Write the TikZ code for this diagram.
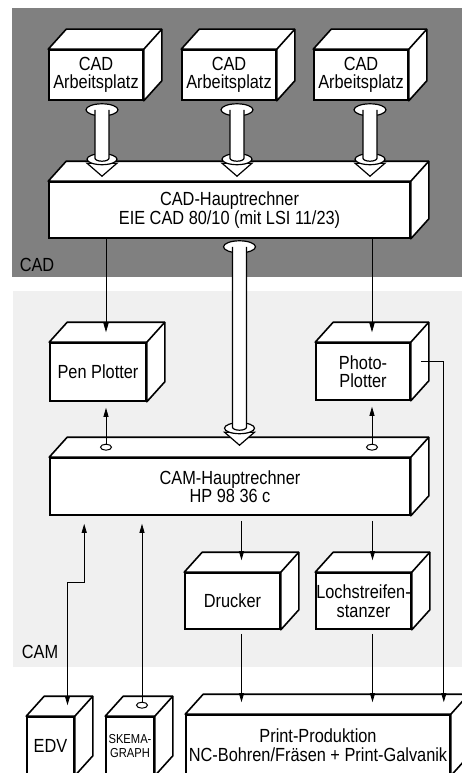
\documentclass[tikz,border=0pt]{standalone}
\usepackage{fontspec}
\setmainfont{Liberation Sans}[FakeStretch=0.86]
\usetikzlibrary{arrows.meta,calc,shapes.geometric}

\tikzset{
  unit/.style={draw,line width=1.6pt,fill=white,inner sep=0pt,align=center,
    font=\fontsize{19}{18.5}\selectfont},
  smallunit/.style={unit,font=\fontsize{13}{14}\selectfont},
  sig/.style={line width=0.8pt,-{Triangle[length=9pt,width=5pt]}},
  dsig/.style={line width=0.8pt,{Triangle[length=9pt,width=5pt]}-{Triangle[length=9pt,width=5pt]}},
  busline/.style={line width=1.2pt,fill=white},
  port/.style={ellipse,draw,line width=1pt,fill=white,inner sep=0pt,
    minimum width=11pt,minimum height=6pt},
  zone/.style={font=\fontsize{19}{19}\selectfont},
}

% side and top faces of a unit
\newcommand{\faces}[1]{%
  \draw[line width=1.6pt,fill=white,line join=round] (#1.north west) -- ++(18,-20)
    -- ($(#1.north east)+(18,-20)$) -- ($(#1.south east)+(18,-20)$)
    -- (#1.south east) -- (#1.north east) -- cycle;
  \draw[line width=1.6pt] (#1.north east) -- ++(18,-20);}

% fat bus arrow: dome at #1, cone tip at #2
\newcommand{\bus}[2]{%
  \draw[busline] ($(#2)+(-15,-13)$) -- ($(#2)+(15,-13)$) -- (#2) -- cycle;
  \draw[busline] ($(#2)+(0,-17)$) ellipse [x radius=15,y radius=5.5];
  \draw[busline] (#1) ellipse [x radius=16,y radius=6];
  \draw[busline] ($(#1)+(-7,0)$) -- ($(#2)+(-7,-18)$)
    arc[start angle=180,end angle=0,x radius=7,y radius=3] -- ($(#1)+(7,0)$);}

\begin{document}
\begin{tikzpicture}[x=1pt,y=-1pt]
  \clip (0,0) rectangle (462,773);

  % zones
  \fill[black!50] (12,8) rectangle (462,277);
  \fill[black!6] (13,291) rectangle (462,667);
  \node[zone] (cadlabel) at (37,265) {CAD};
  \node[zone] (camlabel) at (40,652) {CAM};

  % CAD side
  \node[unit,minimum width=94,minimum height=50] (ws1) at (96,75) {CAD\\Arbeitsplatz};
  \node[unit,minimum width=94,minimum height=50] (ws2) at (229,75) {CAD\\Arbeitsplatz};
  \node[unit,minimum width=94,minimum height=50] (ws3) at (361,75) {CAD\\Arbeitsplatz};
  \node[unit,minimum width=361,minimum height=56] (cad) at (229.5,210)
    {CAD-Hauptrechner\\EIE CAD 80/10 (mit LSI 11/23)};
  \faces{ws1} \faces{ws2} \faces{ws3} \faces{cad}

  % plotters and CAM
  \node[unit,minimum width=96,minimum height=58] (pen) at (98,372) {Pen Plotter};
  \node[unit,minimum width=94,minimum height=57] (photo) at (363,371.5) {Photo-\\Plotter};
  \node[unit,minimum width=360,minimum height=57] (cam) at (230,486.5)
    {CAM-Hauptrechner\\HP 98 36 c};
  \node[unit,minimum width=95,minimum height=56] (druck) at (232.5,601) {Drucker};
  \node[unit,minimum width=95,minimum height=56] (loch) at (363.5,601) {Lochstreifen-\\stanzer};
  \faces{pen} \faces{photo} \faces{cam} \faces{druck} \faces{loch}

  % bottom row
  \node[unit,minimum width=47,minimum height=58] (edv) at (50.5,746) {EDV};
  \node[smallunit,minimum width=48,minimum height=58] (skema) at (130,746) {SKEMA-\\GRAPH};
  \node[unit,minimum width=264,minimum height=60] (print) at (318,745)
    {Print-Produktion\\NC-Bohren/Fräsen + Print-Galvanik};
  \faces{edv} \faces{skema} \faces{print}

  % anchor points on the faces
  \coordinate (ws1-b) at ($(ws1.south)+(6,9)$);
  \coordinate (ws2-b) at ($(ws2.south)+(8,9)$);
  \coordinate (ws3-b) at ($(ws3.south)+(9,9)$);
  \coordinate (cad-t) at ($(cad.north)+(9,-5)$);
  \coordinate (cad-b) at ($(cad.south)+(10,8)$);
  \coordinate (cam-t) at ($(cam.north)+(10,-12)$);
  \coordinate (cam-m) at ($(cam.north)+(0,-10)$);
  \coordinate (cam-l) at ($(cam.south west)+(35,8)$);
  \coordinate (pen-t) at ($(pen.north)+(8,-10)$);
  \coordinate (pen-b) at ($(pen.south)+(8,6)$);
  \coordinate (photo-t) at ($(photo.north)+(9,-10)$);
  \coordinate (photo-b) at ($(photo.south)+(9,6)$);
  \coordinate (photo-s) at ($(photo.east)+(10,-10)$);
  \coordinate (druck-t) at ($(druck.north)+(9,-12)$);
  \coordinate (druck-b) at ($(druck.south)+(9,4)$);
  \coordinate (loch-t) at ($(loch.north)+(9,-12)$);
  \coordinate (loch-b) at ($(loch.south)+(9,4)$);
  \coordinate (print-t) at ($(print.north)+(0,-12)$);
  \coordinate (print-r) at ($(print.north east)+(-7,-12)$);
  \coordinate (edv-t) at ($(edv.north)+(17,-11)$);

  % bus arrows
  \bus{ws1-b}{ws1-b |- cad-t}
  \bus{ws2-b}{ws2-b |- cad-t}
  \bus{ws3-b}{ws3-b |- cad-t}
  \bus{cad-b}{cad-b |- cam-t}

  % signal lines
  \draw[sig] (cad.south -| pen-t) -- (pen-t);
  \draw[sig] (cad.south -| photo-t) -- (photo-t);
  \node[port] (m1) at (pen-b |- cam-m) {};
  \node[port] (m2) at (photo-b |- cam-m) {};
  \draw[sig] (m1) -- (pen-b);
  \draw[sig] (m2) -- (photo-b);
  \draw[sig,shorten <=5pt] (cam.south -| druck-t) -- (druck-t);
  \draw[sig,shorten <=5pt] (cam.south -| loch-t) -- (loch-t);
  \draw[sig] (druck-b) -- (druck-b |- print-t);
  \draw[sig] (loch-b) -- (loch-b |- print-t);
  \draw[sig] (photo-s) -| (print-r);
  \draw[dsig] (cam-l) -- ++(0,59) -| (edv-t);
  \node[port] (m3) at ($(skema.north)+(12,-11)$) {};
  \draw[sig] (m3) -- (m3 |- cam-l);
\end{tikzpicture}
\end{document}
